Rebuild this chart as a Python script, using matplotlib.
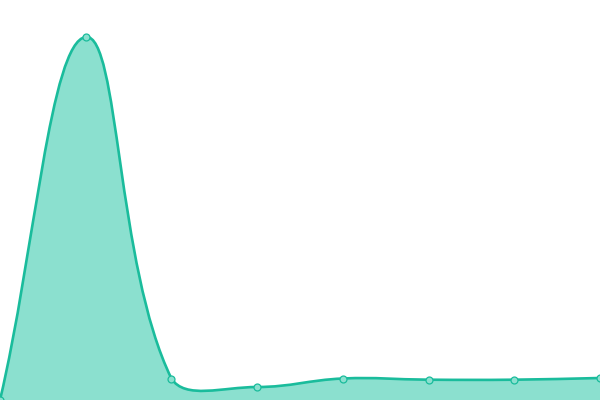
import matplotlib
matplotlib.use("Agg")
import matplotlib.pyplot as plt
import numpy as np
from matplotlib.path import Path
from matplotlib.patches import PathPatch

categories = ["A", "B", "C", "D", "E", "F", "G", "H"]
values = [0, 3630, 215, 130, 215, 203, 203, 220]

LINE = "#1abc9c"
FILL = "#8be0cf"

fig = plt.figure(figsize=(6, 4), dpi=100)
ax = fig.add_axes([0, 0, 1, 1])
ax.set_xlim(0, len(categories) - 1)
ax.set_ylim(0, 4000)
ax.axis("off")

xs = np.arange(len(categories), dtype=float)
pts = ax.transData.transform(np.column_stack([xs, values]))
bbox = ax.bbox

# Chart.js-like spline (tension 0.4) with control points capped to the area
tension = 0.4
n = len(pts)
prev_cp = []
next_cp = []
for i in range(n):
    cur = pts[i]
    prv = pts[i - 1] if i > 0 else cur
    nxt = pts[i + 1] if i + 1 < n else cur
    d01 = np.hypot(*(cur - prv))
    d12 = np.hypot(*(nxt - cur))
    tot = d01 + d12
    s01 = d01 / tot if tot else 0.0
    s12 = d12 / tot if tot else 0.0
    v = nxt - prv
    a = cur - tension * s01 * v
    b = cur + tension * s12 * v
    a = np.array([np.clip(a[0], bbox.x0, bbox.x1), np.clip(a[1], bbox.y0, bbox.y1)])
    b = np.array([np.clip(b[0], bbox.x0, bbox.x1), np.clip(b[1], bbox.y0, bbox.y1)])
    prev_cp.append(a)
    next_cp.append(b)

verts = [tuple(pts[0])]
codes = [Path.MOVETO]
for i in range(1, n):
    verts += [tuple(next_cp[i - 1]), tuple(prev_cp[i]), tuple(pts[i])]
    codes += [Path.CURVE4] * 3

inv = ax.transData.inverted()
dverts = inv.transform(np.array(verts))
line_path = Path(dverts, codes)

fill_verts = list(dverts) + [(xs[-1], 0), (xs[0], 0), (xs[0], values[0])]
fill_codes = list(codes) + [Path.LINETO, Path.LINETO, Path.CLOSEPOLY]
ax.add_patch(PathPatch(Path(fill_verts, fill_codes), facecolor=FILL, edgecolor="none", zorder=1))
ax.add_patch(PathPatch(line_path, facecolor="none", edgecolor=LINE, lw=1.9, zorder=2))
ax.plot(xs, values, linestyle="none", marker="o", markersize=5,
        markerfacecolor=FILL, markeredgecolor=LINE, markeredgewidth=0.9, zorder=3)

fig.savefig("out.png", dpi=100)
